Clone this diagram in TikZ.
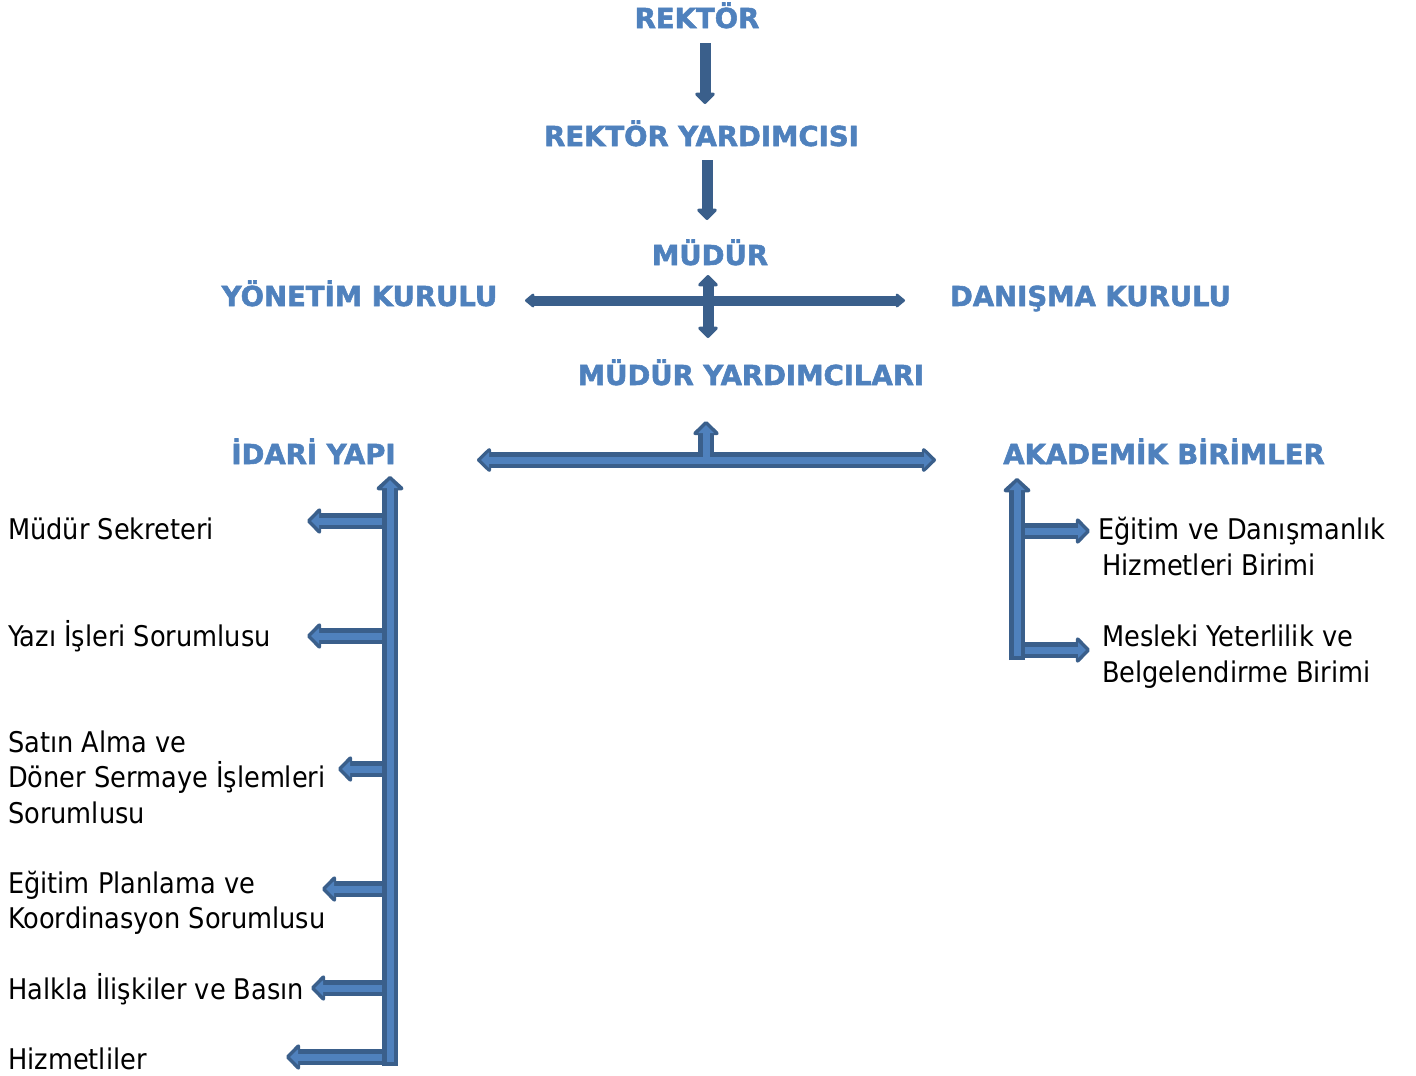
\documentclass[tikz,border=0pt]{standalone}
\usepackage{fontspec}
\setmainfont{DejaVu Sans Condensed}
\newfontfamily\hdrfont{DejaVu Sans}[BoldFeatures={FakeBold=2}]
\usetikzlibrary{arrows.meta}

\definecolor{hdrblue}{HTML}{4F81BD}
\definecolor{arrdark}{HTML}{3A5F8B}
\definecolor{arrlight}{HTML}{4F81BD}

\tikzset{
  hdr/.style={anchor=base, inner sep=0pt, text=hdrblue,
    font=\hdrfont\bfseries\fontsize{27.5}{32}\selectfont},
  item/.style={anchor=base west, inner sep=0pt, align=left,
    font=\fontsize{28.5}{35.5}\selectfont},
  solidarr/.style={draw=arrdark, line width=11pt,
    -{Triangle[length=12pt,width=23pt,round]}},
  crossh/.style={draw=arrdark, line width=10pt,
    {Triangle[length=10pt,width=16pt,round]}-{Triangle[length=10pt,width=16pt,round]}},
  crossv/.style={draw=arrdark, line width=11pt,
    {Triangle[length=12pt,width=23pt,round]}-{Triangle[length=12pt,width=23pt,round]}},
  outerarr/.style={draw=arrdark, line width=16pt,
    -{Triangle[length=15pt,width=30pt,round]}},
  innerarr/.style={draw=arrlight, line width=7pt,
    -{Triangle[length=8pt,width=15pt]}, shorten >=4pt},
}

\begin{document}
\begin{tikzpicture}[x=1pt,y=-1pt]
  \useasboundingbox (0,0) rectangle (1416,1076);

  % headers
  \node[hdr] (rektor) at (697,28) {REKTÖR};
  \node[hdr] (ryard) at (701.5,146) {REKTÖR YARDIMCISI};
  \node[hdr] (mudur) at (710,265) {MÜDÜR};
  \node[hdr] (yonetim) at (359.5,306) {YÖNETİM KURULU};
  \node[hdr] (danisma) at (1090.5,306) {DANIŞMA KURULU};
  \node[hdr] (myard) at (751,385) {MÜDÜR YARDIMCILARI};
  \node[hdr] (idari) at (313.5,464) {İDARİ YAPI};
  \node[hdr] (akad) at (1164,464) {AKADEMİK BİRİMLER};

  % units (base = last line)
  \node[item] (sekreter) at (8,539) {Müdür Sekreteri};
  \node[item] (yazi) at (8,646) {Yazı İşleri Sorumlusu};
  \node[item] (satin) at (8,823) {Satın Alma ve\\Döner Sermaye İşlemleri\\Sorumlusu};
  \node[item] (planlama) at (8,928.5) {Eğitim Planlama ve\\Koordinasyon Sorumlusu};
  \node[item] (halkla) at (8,999) {Halkla İlişkiler ve Basın};
  \node[item] (hizmet) at (8,1069) {Hizmetliler};
  \node[item] (danisman) at (1098,575) {Eğitim ve Danışmanlık\\\hspace*{4pt}Hizmetleri Birimi};
  \node[item] (mesleki) at (1102,682) {Mesleki Yeterlilik ve\\Belgelendirme Birimi};

  % solid arrows
  \draw[solidarr] ([xshift=8pt,yshift=-15pt]rektor.base) -- ([xshift=3.5pt,yshift=42pt]ryard.base);
  \draw[solidarr] ([xshift=5.5pt,yshift=-14pt]ryard.base) -- ([xshift=-3pt,yshift=45pt]mudur.base);
  \draw[crossh] ([xshift=165.5pt,yshift=5.5pt]yonetim.base) -- ([xshift=-185.5pt,yshift=5.5pt]danisma.base);
  \draw[crossv] ([xshift=-2pt,yshift=-10pt]mudur.base) -- ([xshift=-43pt,yshift=47pt]myard.base);

  % outlined arrows
  \coordinate (hub) at ([xshift=-45pt,yshift=-75pt]myard.base);
  \coordinate (idaritip) at ([xshift=76.5pt,yshift=-12pt]idari.base);
  \coordinate (idariend) at (390,1066);
  \coordinate (akadtip) at ([xshift=-147pt,yshift=-14pt]akad.base);
  \coordinate (akadend) at (1017,660);

  \draw[outerarr, {Triangle[length=15pt,width=28pt,round]}-{Triangle[length=15pt,width=28pt,round]}]
    ([xshift=163.5pt,yshift=4pt]idari.base) -- ([xshift=-228pt,yshift=4pt]akad.base);
  \draw[outerarr] ([yshift=8pt]hub) -- ([xshift=-45pt,yshift=-36pt]myard.base);
  \draw[outerarr, -{Triangle[length=15pt,width=32pt,round]}] (idariend) -- (idaritip);
  \foreach \y/\tip in {521/307, 636/307, 769/338, 889/322, 988/311, 1057/286}
    \draw[outerarr] (idariend |- 0,\y) -- (\tip,\y);
  \draw[outerarr, -{Triangle[length=15pt,width=32pt,round]}] (akadend) -- (akadtip);
  \foreach \y in {531, 650}
    \draw[outerarr] (akadend |- 0,\y) -- (1090,\y);

  \draw[innerarr, {Triangle[length=8pt,width=15pt]}-{Triangle[length=8pt,width=15pt]}, shorten <=4pt]
    ([xshift=163.5pt,yshift=4pt]idari.base) -- ([xshift=-228pt,yshift=4pt]akad.base);
  \draw[innerarr] (hub) -- ([xshift=-45pt,yshift=-36pt]myard.base);
  \draw[innerarr, shorten <=4pt] (idariend) -- (idaritip);
  \foreach \y/\tip in {521/307, 636/307, 769/338, 889/322, 988/311, 1057/286}
    \draw[innerarr] (382,\y) -- (\tip,\y);
  \draw[innerarr, shorten <=4pt] (akadend) -- (akadtip);
  \foreach \y in {531, 650}
    \draw[innerarr] (1025,\y) -- (1090,\y);
\end{tikzpicture}
\end{document}
